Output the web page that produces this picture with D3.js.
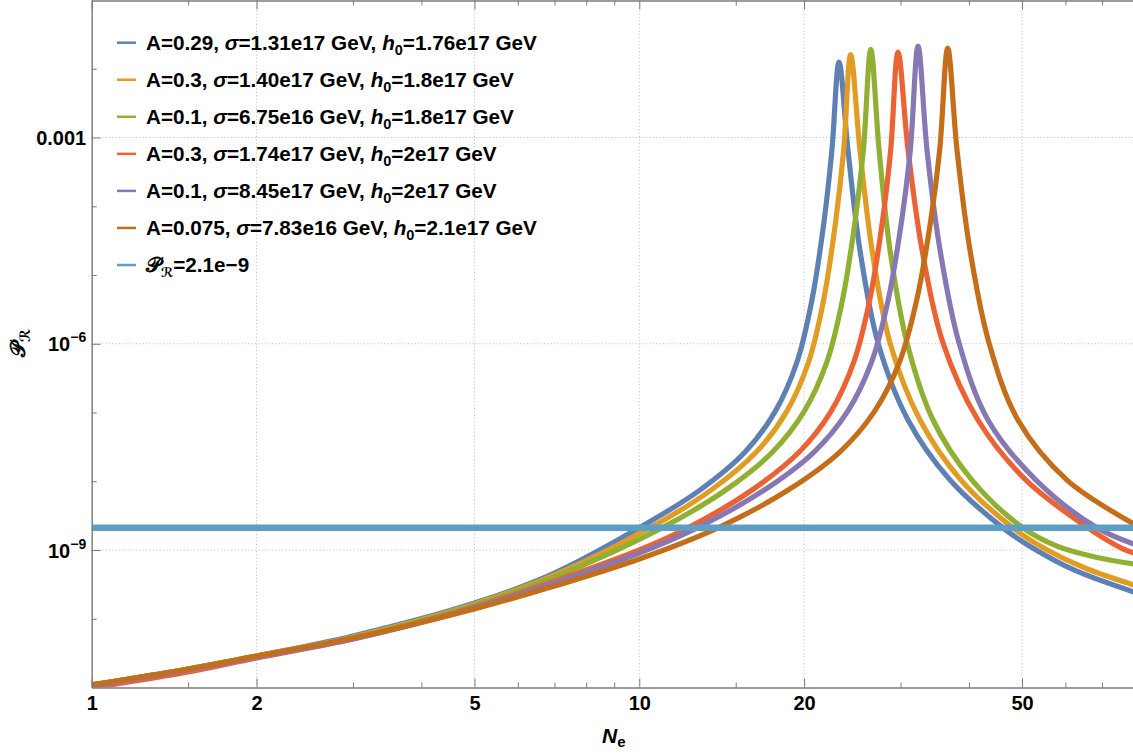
<!DOCTYPE html>
<html><head><meta charset="utf-8">
<script src="https://cdn.jsdelivr.net/npm/d3@7"></script>
<style>
body{margin:0;background:#fff}
svg{display:block}
text{font-family:"Liberation Sans",Arial,sans-serif;font-weight:bold;fill:#000}
</style>
</head><body>
<svg id="chart" width="1133" height="755"></svg>
<script>
// ---------- data ----------
const blueN = [1,1.5,2,3,5,7,10,12.91,15.6,17.69,19.41,20.67,21.74,22.48,23.16,24.05,25.29,27.29,30.96,36.94,46.15,52.58,62.2,80];
const blueP = [1.09e-11,1.86e-11,2.87e-11,5.61e-11,1.69e-10,4.62e-10,2.1e-9,7.46e-9,2.66e-8,1.02e-7,5.43e-7,4.33e-6,5.9e-5,6.58e-4,1.25e-2,6.58e-4,2.31e-5,1.03e-6,7.78e-8,1.04e-8,2.1e-9,1.04e-9,5.12e-10,2.45e-10];

const orangeN = [1,1.5,2,3,5,7,10.46,13.53,16.36,18.57,20.38,21.71,22.83,23.62,24.32,25.29,26.61,28.7,32.56,38.68,48.13,55.07,65.16,80];
const orangeP = [1.09e-11,1.86e-11,2.87e-11,5.43e-11,1.64e-10,4.33e-10,2.1e-9,7.46e-9,2.66e-8,1.02e-7,5.43e-7,4.33e-6,5.9e-5,6.58e-4,1.61e-2,6.58e-4,2.31e-5,1.03e-6,7.78e-8,1.04e-8,2.1e-9,1.04e-9,5.47e-10,3.1e-10];

const greenN = [1,1.5,2,3,5,7,11.0,14.38,17.51,19.98,22.01,23.5,24.77,25.66,26.47,27.41,28.7,30.83,34.39,40.51,50.2,57.91,67.95,80];
const greenP = [1.09e-11,1.86e-11,2.87e-11,5.25e-11,1.58e-10,4.05e-10,2.1e-9,7.46e-9,2.66e-8,1.02e-7,5.43e-7,4.33e-6,5.9e-5,6.58e-4,1.91e-2,6.58e-4,2.31e-5,1.03e-6,7.78e-8,1.04e-8,2.1e-9,1.14e-9,7.91e-10,6.25e-10];

const redN = [1,1.5,2,3,5,7,10,12.27,16.07,19.59,22.37,24.65,26.35,27.79,28.78,29.68,30.96,32.84,35.86,41.54,50.84,65.98,76.42,80];
const redP = [9.84e-12,1.68e-11,2.69e-11,5.07e-11,1.48e-10,3.54e-10,1.0e-9,2.1e-9,7.46e-9,2.66e-8,1.02e-7,5.43e-7,4.33e-6,5.9e-5,6.58e-4,1.75e-2,6.58e-4,2.31e-5,1.03e-6,7.78e-8,1.04e-8,2.1e-9,1.04e-9,9.04e-10];

const purpleN = [1,1.5,2,3,5,7,10,12.75,16.92,20.85,23.98,26.56,28.48,30.11,31.26,32.29,33.53,35.42,38.36,43.33,53.02,68.53,80];
const purpleP = [1.05e-11,1.8e-11,2.78e-11,5.07e-11,1.43e-10,3.31e-10,9.04e-10,2.1e-9,7.46e-9,2.66e-8,1.02e-7,5.43e-7,4.33e-6,5.9e-5,6.58e-4,2.14e-2,6.58e-4,2.31e-5,1.03e-6,7.78e-8,1.04e-8,2.1e-9,1.22e-9];

const brownN = [1,1.5,2,3,5,7,10,13.92,18.7,23.23,26.85,29.87,32.11,34.03,35.37,36.58,38.04,40.17,43.52,49.15,60.4,80];
const brownP = [1.09e-11,1.86e-11,2.87e-11,5.25e-11,1.39e-10,2.99e-10,7.4e-10,2.1e-9,7.46e-9,2.66e-8,1.02e-7,5.43e-7,4.33e-6,5.9e-5,6.58e-4,2.0e-2,6.58e-4,2.31e-5,1.03e-6,7.78e-8,1.04e-8,2.39e-9];

const refLevel = 2.1e-9;

const legendA = ["0.29","0.3","0.1","0.3","0.1","0.075"];
const legendSigma = ["1.31e17","1.40e17","6.75e16","1.74e17","8.45e17","7.83e16"];
const legendH0 = ["1.76e17","1.8e17","1.8e17","2e17","2e17","2.1e17"];
const refLabel = "2.1e−9";

const xMajorTicks = [1,2,5,10,20,50];
const xMinorTicks = [1.5,3,4,6,7,8,9,15,30,40,60,70];
const yMajorTicks = [1e-3,1e-6,1e-9];
const yMajorLabels = ["0.001","10|−6","10|−9"];
const yMinorTicks = [1e-2,1e-4,1e-5,1e-7,1e-8,1e-10];

const colors = ["#5E81B5","#E19C24","#8FB032","#EB6235","#8778B3","#C56E1A"];
const refColor = "#5D9EC7";

// ---------- layout ----------
const svg = d3.select("#chart");
const L = 91.7, R = 1133.8, T = 0, B = 687.5;
const x = d3.scaleLog().domain([1,80]).range([L,R]);
const y = d3.scaleLog().domain([1e-11,1e-1]).range([B,T]);
const axisColor = "#7a7a7a";

// gridlines
const grid = svg.append("g");
grid.selectAll("line.gx").data(xMajorTicks.slice(1)).join("line")
  .attr("x1",d=>x(d)).attr("x2",d=>x(d)).attr("y1",T).attr("y2",B)
  .attr("stroke","#c4c4c4").attr("stroke-width",1).attr("stroke-dasharray","1.2,2.2");
grid.selectAll("line.gy").data(yMajorTicks).join("line")
  .attr("x1",L).attr("x2",R).attr("y1",d=>y(d)).attr("y2",d=>y(d))
  .attr("stroke","#c4c4c4").attr("stroke-width",1).attr("stroke-dasharray","1.2,2.2");

// curves
svg.append("clipPath").attr("id","plotclip").append("rect")
  .attr("x",L).attr("y",T).attr("width",R-L).attr("height",B-T);
const plot = svg.append("g").attr("clip-path","url(#plotclip)");
const line = d3.line().x(d=>x(d[0])).y(d=>y(d[1])).curve(d3.curveCatmullRom.alpha(0.5));
const series = [[blueN,blueP],[orangeN,orangeP],[greenN,greenP],[redN,redP],[purpleN,purpleP],[brownN,brownP]];
series.forEach((s,i)=>{
  const pts = s[0].map((n,j)=>[n,s[1][j]]);
  plot.append("path").datum(pts).attr("d",line)
    .attr("fill","none").attr("stroke",colors[i]).attr("stroke-width",5.2)
    .attr("stroke-linejoin","round");
});
plot.append("line").attr("x1",L).attr("x2",R).attr("y1",y(refLevel)).attr("y2",y(refLevel))
  .attr("stroke",refColor).attr("stroke-width",6.5);

// axes
function styleAxis(g){
  g.select(".domain").attr("stroke",axisColor);
  g.selectAll(".tick line").attr("stroke",axisColor);
}
const xAxis = svg.append("g").attr("transform",`translate(0,${B})`)
  .call(d3.axisBottom(x).tickValues(xMajorTicks).tickFormat(d3.format("d")).tickSize(-9).tickPadding(8).tickSizeOuter(0));
styleAxis(xAxis);
xAxis.selectAll(".tick text").attr("font-size",20).attr("font-family","Liberation Sans, Arial, sans-serif")
  .attr("font-weight","bold").attr("fill","#000").attr("y",22).attr("dy",null);
const xMinor = svg.append("g").attr("transform",`translate(0,${B})`)
  .call(d3.axisBottom(x).tickValues(xMinorTicks).tickFormat("").tickSize(-5).tickSizeOuter(0));
styleAxis(xMinor);
// top frame
const xTop = svg.append("g").attr("transform",`translate(0,${T+0.5})`)
  .call(d3.axisTop(x).tickValues(xMajorTicks).tickFormat("").tickSize(-9).tickSizeOuter(0));
styleAxis(xTop);
const xTopMinor = svg.append("g").attr("transform",`translate(0,${T+0.5})`)
  .call(d3.axisTop(x).tickValues(xMinorTicks).tickFormat("").tickSize(-5).tickSizeOuter(0));
styleAxis(xTopMinor);

const yAxis = svg.append("g").attr("transform",`translate(${L},0)`)
  .call(d3.axisLeft(y).tickValues(yMajorTicks).tickFormat(()=>"").tickSize(-9).tickSizeOuter(0));
styleAxis(yAxis);
yAxis.selectAll(".tick").each(function(d,i){
  const parts = yMajorLabels[i].split("|");
  const t = d3.select(this).append("text").attr("x",-5.5).attr("y",0).attr("dy","0.36em")
    .attr("text-anchor","end").attr("font-size",20).attr("fill","#000");
  t.append("tspan").text(parts[0]);
  if(parts[1]) t.append("tspan").attr("font-size",14).attr("dy",-9).text(parts[1]);
});
const yMinor = svg.append("g").attr("transform",`translate(${L},0)`)
  .call(d3.axisLeft(y).tickValues(yMinorTicks).tickFormat("").tickSize(-5).tickSizeOuter(0));
styleAxis(yMinor);

// axis titles
const xt = svg.append("text").attr("x",602).attr("y",743).attr("font-size",21);
xt.append("tspan").attr("font-style","italic").text("N");
xt.append("tspan").attr("font-size",15).attr("dy",4).text("e");

const yt = svg.append("text").attr("transform","translate(25,343) rotate(-90)")
  .attr("text-anchor","middle").attr("font-size",21);
yt.append("tspan").attr("font-family","DejaVu Sans, sans-serif").text("𝒫");
yt.append("tspan").attr("font-family","DejaVu Sans, sans-serif").attr("font-size",14).attr("dy",5).text("ℛ");

// legend
const legend = svg.append("g");
const rowY = i => 42.7 + i*37.05;
const fs = 20.7;
legendA.forEach((a,i)=>{
  const yy = rowY(i);
  legend.append("line").attr("x1",117).attr("x2",136).attr("y1",yy).attr("y2",yy)
    .attr("stroke",colors[i]).attr("stroke-width",2.5);
  const t = legend.append("text").attr("x",146).attr("y",yy+7.3).attr("font-size",fs);
  t.append("tspan").text(`A=${a}, `);
  t.append("tspan").attr("font-style","italic").text("σ");
  t.append("tspan").text(`=${legendSigma[i]} GeV, `);
  t.append("tspan").attr("font-style","italic").text("h");
  t.append("tspan").attr("font-size",14.5).attr("dy",5).text("0");
  t.append("tspan").attr("dy",-5).text(`=${legendH0[i]} GeV`);
});
{
  const yy = rowY(6);
  legend.append("line").attr("x1",117).attr("x2",136).attr("y1",yy).attr("y2",yy)
    .attr("stroke",refColor).attr("stroke-width",2.5);
  const t = legend.append("text").attr("x",146).attr("y",yy+7.3).attr("font-size",fs);
  t.append("tspan").attr("font-family","DejaVu Sans, sans-serif").text("𝒫");
  t.append("tspan").attr("font-family","DejaVu Sans, sans-serif").attr("font-size",13).attr("dy",5).text("ℛ");
  t.append("tspan").attr("dy",-5).text(`=${refLabel}`);
}
</script>
</body></html>
